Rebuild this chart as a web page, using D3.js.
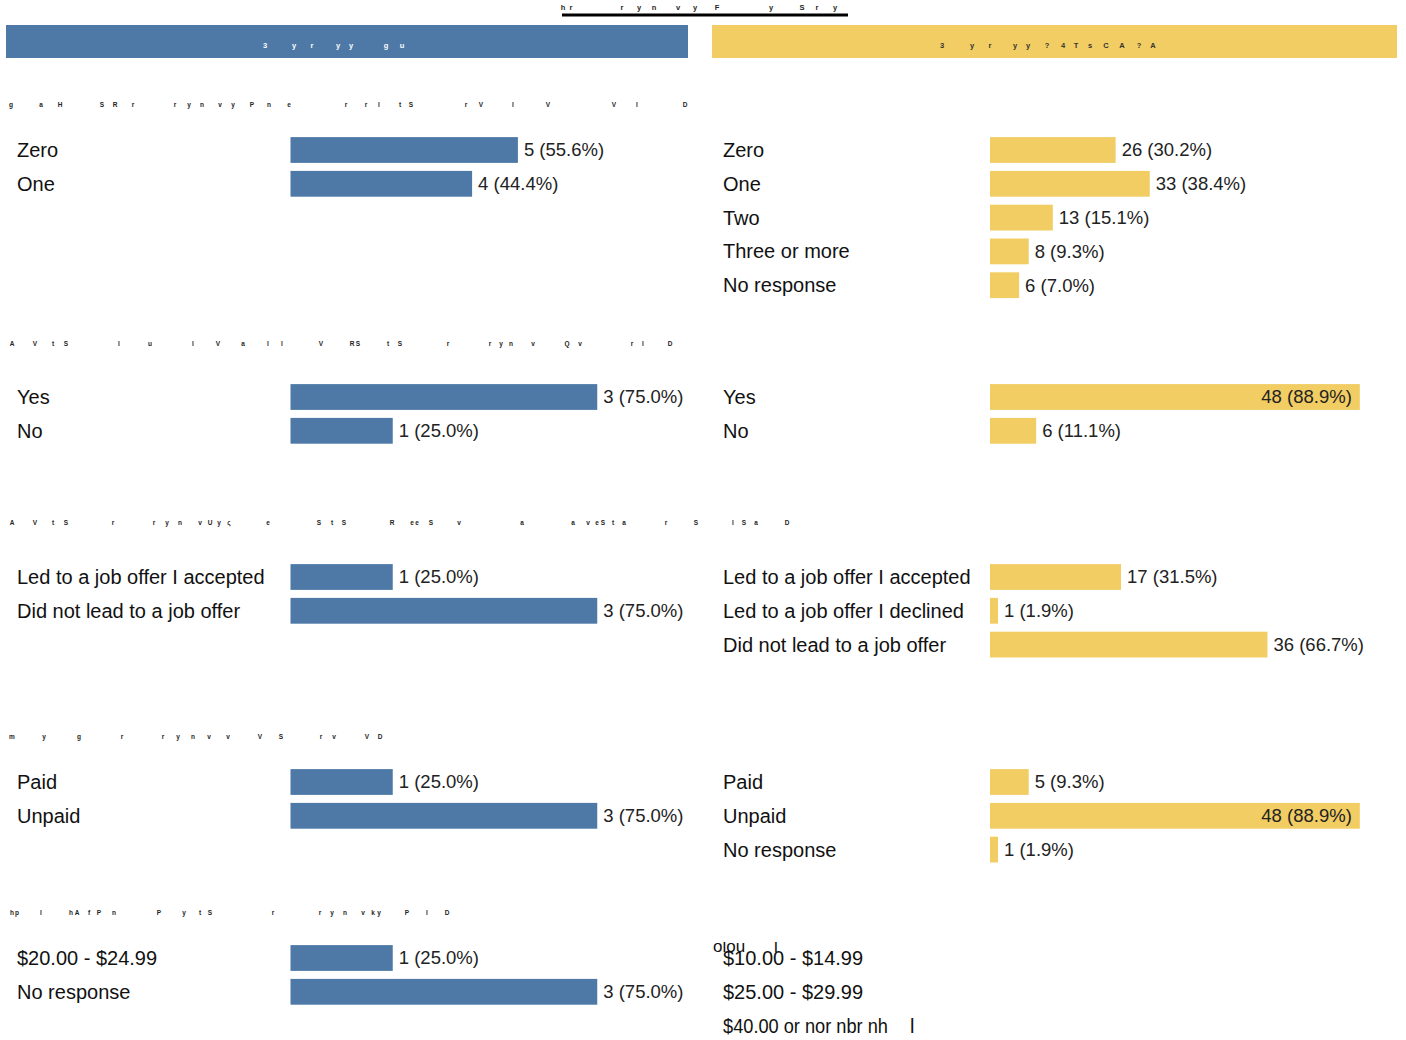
<!DOCTYPE html>
<html>
<head>
<meta charset="utf-8">
<script src="https://cdn.jsdelivr.net/npm/d3@7"></script>
<style>
  html, body { margin: 0; padding: 0; background: #fff; }
  svg { display: block; font-family: "Liberation Sans", Arial, sans-serif; }
</style>
</head>
<body>
<svg id="chart" width="1406" height="1040"></svg>
<script>
// ---------------- DATA ----------------
const left1Cats = ["Zero", "One"];
const left1Counts = [5, 4];
const left1Pcts = [55.6, 44.4];
const right1Cats = ["Zero", "One", "Two", "Three or more", "No response"];
const right1Counts = [26, 33, 13, 8, 6];
const right1Pcts = [30.2, 38.4, 15.1, 9.3, 7.0];

const left2Cats = ["Yes", "No"];
const left2Counts = [3, 1];
const left2Pcts = [75.0, 25.0];
const right2Cats = ["Yes", "No"];
const right2Counts = [48, 6];
const right2Pcts = [88.9, 11.1];

const left3Cats = ["Led to a job offer I accepted", "Did not lead to a job offer"];
const left3Counts = [1, 3];
const left3Pcts = [25.0, 75.0];
const right3Cats = ["Led to a job offer I accepted", "Led to a job offer I declined", "Did not lead to a job offer"];
const right3Counts = [17, 1, 36];
const right3Pcts = [31.5, 1.9, 66.7];

const left4Cats = ["Paid", "Unpaid"];
const left4Counts = [1, 3];
const left4Pcts = [25.0, 75.0];
const right4Cats = ["Paid", "Unpaid", "No response"];
const right4Counts = [5, 48, 1];
const right4Pcts = [9.3, 88.9, 1.9];

const left5Cats = ["$20.00 - $24.99", "No response"];
const left5Counts = [1, 3];
const left5Pcts = [25.0, 75.0];
const right5Cats = ["$10.00 - $14.99", "$25.00 - $29.99", "$40.00 or nor nbr nh"];
const right5Counts = [];
const right5Pcts = [];

// garbled glyph text as it appears (glyph@x)
const titleGlyphs = "h@563 r@571 r@622 y@639 n@654 v@678 y@695 F@717 y@771 S@802 r@817 y@835";
const blueHeaderGlyphs = "3@265 y@294 r@312 y@338 y@351 g@386 u@402";
const yellowHeaderGlyphs = "3@942 y@972 r@990 y@1015 y@1028 ?@1047 4@1063 T@1076 s@1090 C@1106 A@1122 ?@1139 A@1153";
const headingGlyphs = [
  "g@11 a@41 H@60 S@102 R@115 r@133 r@175 y@189 n@202 v@220 y@233 P@252 n@269 e@289 r@346 r@366 l@379 t@400 S@411 r@466 V@481 l@513 V@548 V@614 l@637 D@685",
  "A@12 V@35 t@53 S@66 l@119 u@150 l@193 V@218 a@243 l@268 l@282 V@321 R@352 S@358 t@388 S@400 r@448 r@490 y@501 n@511 v@533 Q@567 v@580 r@632 l@643 D@670",
  "A@12 V@35 t@53 S@66 r@113 r@154 y@167 n@180 v@200 U@210 y@219 ς@229 e@268 S@319 t@332 S@344 R@392 e@412 e@417 S@431 v@459 a@522 a@573 v@588 e@597 S@603 t@613 a@624 r@666 S@696 l@733 S@744 a@756 D@787",
  "m@12 y@44 g@79 r@122 r@163 y@178 n@193 v@209 v@228 V@260 S@281 r@321 v@334 V@367 D@380",
  "h@12 p@17 l@41 h@71 A@77 f@89 P@99 n@114 P@159 y@184 t@200 S@210 r@273 r@320 y@332 n@345 v@363 k@373 y@379 P@407 l@427 D@447"
];

// ---------------- LAYOUT ----------------
const W = 1406, H = 1040;
const BLUE = "#4e79a7", YELLOW = "#f1cd63";
const sectionHeadingY = [105, 344, 523, 737, 913];
const sectionRowY = [150, 397, 577, 782, 958];
const rowStep = 33.8;
const panels = [
  { labelX: 17, barX: 290.5, width: 409, right: 688, color: BLUE },
  { labelX: 723, barX: 990, width: 416, right: 1397, color: YELLOW }
];
const sections = [
  [[left1Cats, left1Counts, left1Pcts], [right1Cats, right1Counts, right1Pcts]],
  [[left2Cats, left2Counts, left2Pcts], [right2Cats, right2Counts, right2Pcts]],
  [[left3Cats, left3Counts, left3Pcts], [right3Cats, right3Counts, right3Pcts]],
  [[left4Cats, left4Counts, left4Pcts], [right4Cats, right4Counts, right4Pcts]],
  [[left5Cats, left5Counts, left5Pcts], [right5Cats, right5Counts, right5Pcts]]
];

const svg = d3.select("#chart");
const glyphLayer = svg.append("g").attr("opacity", 0.99);

function parseGlyphs(s) {
  return s.split(" ").map(t => { const i = t.lastIndexOf("@"); return { c: t.slice(0, i), x: +t.slice(i + 1) }; });
}
function glyphText(g, spec, y, size, color) {
  const t = g.append("text").attr("y", y).attr("dy", "0.35em")
    .attr("font-size", size).attr("font-weight", "bold").attr("fill", color)
    .attr("text-anchor", "middle");
  t.selectAll("tspan").data(parseGlyphs(spec)).join("tspan")
    .attr("x", d => d.x).text(d => d.c);
}

// Title
glyphText(glyphLayer, titleGlyphs, 7, 7.5, "#222");
svg.append("line").attr("x1", 562).attr("x2", 848).attr("y1", 15).attr("y2", 15)
  .attr("stroke", "#000").attr("stroke-width", 3);

// Header bands
svg.insert("rect", "g").attr("x", 6).attr("y", 25).attr("width", 682).attr("height", 33).attr("fill", BLUE);
svg.insert("rect", "g").attr("x", 712).attr("y", 25).attr("width", 685).attr("height", 33).attr("fill", YELLOW);
glyphText(glyphLayer, blueHeaderGlyphs, 45, 7.5, "#fff");
glyphText(glyphLayer, yellowHeaderGlyphs, 45, 7.5, "#333");

// Sections
sections.forEach((sec, si) => {
  glyphText(glyphLayer, headingGlyphs[si], sectionHeadingY[si], 6.5, "#222");
  sec.forEach(([cats, counts, pcts], pi) => {
    const p = panels[pi];
    const g = svg.append("g");
    const x = d3.scaleLinear().domain([0, 100]).range([p.barX, p.barX + p.width]);
    const y = d3.scaleBand().domain(cats)
      .range([sectionRowY[si] - rowStep / 2, sectionRowY[si] - rowStep / 2 + rowStep * cats.length])
      .paddingInner(8 / rowStep).paddingOuter(4 / rowStep);
    const rows = cats.map((c, i) => ({ cat: c, n: counts[i], pct: pcts[i] }));
    const labs = g.selectAll("text.lab").data(rows).join("text").attr("class", "lab")
      .attr("x", p.labelX).attr("y", d => y(d.cat) + y.bandwidth() / 2).attr("dy", "0.35em")
      .attr("font-size", 20).attr("fill", "#111").text(d => d.cat);
    if (si === 4 && pi === 1) {
      // the last fragment is drawn condensed as in the reference
      labs.filter((d, i) => i === 2).attr("textLength", 165).attr("lengthAdjust", "spacingAndGlyphs");
    }
    const withVal = rows.filter(d => d.n !== undefined);
    g.selectAll("rect").data(withVal).join("rect")
      .attr("x", x(0)).attr("y", d => y(d.cat)).attr("height", y.bandwidth())
      .attr("width", d => Math.max(8, x(d.pct) - x(0))).attr("fill", p.color);
    g.selectAll("text.val").data(withVal).join("text").attr("class", "val")
      .attr("y", d => y(d.cat) + y.bandwidth() / 2).attr("dy", "0.35em")
      .attr("font-size", 18.5).attr("fill", "#222")
      .text(d => `${d.n} (${d.pct.toFixed(1)}%)`)
      .each(function (d) {
        const end = x(0) + Math.max(8, x(d.pct) - x(0));
        const w = this.getComputedTextLength();
        if (end + 6 + w > p.right) d3.select(this).attr("x", end - 8).attr("text-anchor", "end");
        else d3.select(this).attr("x", end + 6);
      });
  });
});

// Fragments in the lower right
const clip = svg.append("defs").append("clipPath").attr("id", "frag");
clip.append("rect").attr("x", 700).attr("y", 942).attr("width", 200).attr("height", 12);
const frag = svg.append("g").attr("clip-path", "url(#frag)");
frag.append("text").attr("x", 713).attr("y", 952).attr("font-size", 17).attr("fill", "#111").text("olou");
frag.append("text").attr("x", 774).attr("y", 952).attr("font-size", 17).attr("fill", "#111").text("l");
svg.append("text").attr("x", 910).attr("y", 1026).attr("dy", "0.35em").attr("font-size", 20).attr("fill", "#111").text("l");
</script>
</body>
</html>
